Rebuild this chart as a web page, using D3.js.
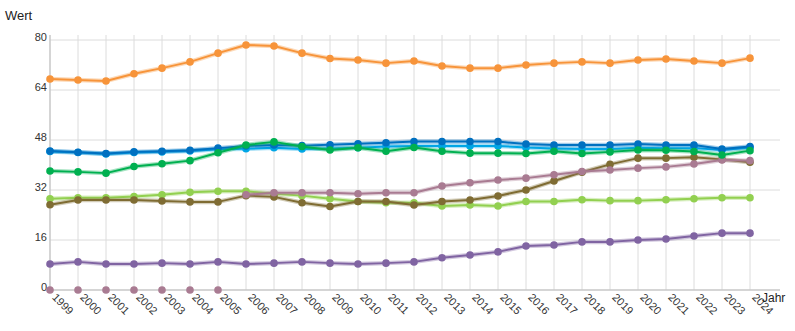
<!DOCTYPE html>
<html>
<head>
<meta charset="utf-8">
<script src="https://cdn.jsdelivr.net/npm/d3@7"></script>
<style>
  html, body { margin: 0; padding: 0; background: #fff; }
  svg { display: block; font-family: "Liberation Sans", Arial, sans-serif; }
</style>
</head>
<body>
<svg id="chart" width="795" height="331"></svg>
<script>
// Jahre auf der x-Achse
const years = d3.range(1999, 2025);
const yTicks = [0, 16, 32, 48, 64, 80];

// Werte je Reihe (null = kein Wert, Punkt auf der Nulllinie)
const orange = [67.5, 67.2, 66.9, 69.2, 71.0, 73.0, 75.8, 78.4, 78.1, 75.8, 74.1, 73.6, 72.6,
                73.3, 71.7, 71.0, 71.0, 72.0, 72.6, 73.0, 72.6, 73.6, 73.9, 73.3, 72.6, 74.2];
const darkBlue = [44.5, 44.1, 43.7, 44.2, 44.4, 44.7, 45.4, 46.1, 46.4, 46.2, 46.5, 46.8, 47.1,
                  47.5, 47.5, 47.5, 47.5, 46.7, 46.4, 46.4, 46.4, 46.7, 46.4, 46.4, 45.1, 45.9];
const lightBlue = [44.3, 44.0, 43.5, 44.0, 44.2, 44.5, 45.0, 45.2, 45.5, 45.1, 45.3, 45.5, 45.9,
                   46.1, 46.1, 46.1, 46.1, 45.6, 45.3, 45.1, 45.1, 45.5, 45.4, 45.4, 44.8, 45.6];
const green = [38.1, 37.8, 37.4, 39.5, 40.4, 41.4, 43.9, 46.4, 47.4, 45.9, 44.8, 45.5, 44.4,
               45.6, 44.4, 43.8, 43.8, 43.7, 44.4, 43.7, 44.2, 44.8, 44.7, 44.3, 43.2, 44.6];
const lightGreen = [29.2, 29.5, 29.5, 29.9, 30.5, 31.3, 31.6, 31.6, 30.8, 30.2, 29.2, 28.3, 27.9,
                    27.9, 26.9, 27.2, 26.9, 28.3, 28.3, 28.9, 28.6, 28.6, 28.9, 29.2, 29.5, 29.5];
const olive = [27.3, 28.8, 28.8, 28.8, 28.5, 28.2, 28.2, 30.2, 29.8, 27.9, 26.7, 28.3, 28.3,
               27.2, 28.3, 28.8, 30.1, 32.0, 34.9, 37.7, 40.2, 42.2, 42.2, 42.5, 41.8, 40.9];
const mauve = [null, null, null, null, null, null, null, 30.5, 31.1, 31.1, 31.1, 30.8, 31.1,
               31.1, 33.3, 34.3, 35.2, 35.8, 36.9, 37.9, 38.4, 39.0, 39.4, 40.3, 41.6, 41.4];
const purple = [8.3, 9.0, 8.3, 8.3, 8.6, 8.3, 9.0, 8.3, 8.6, 9.0, 8.6, 8.3, 8.6,
                9.0, 10.3, 11.2, 12.2, 14.1, 14.4, 15.4, 15.4, 16.0, 16.3, 17.3, 18.2, 18.2];

// Zeichenreihenfolge (unten nach oben)
const seriesList = [
  { values: purple,     color: "#8064a2" },
  { values: lightGreen, color: "#92d050" },
  { values: olive,      color: "#7f6c33" },
  { values: mauve,      color: "#a97b92" },
  { values: lightBlue,  color: "#00a6e6" },
  { values: darkBlue,   color: "#0070c0" },
  { values: green,      color: "#00b050" },
  { values: orange,     color: "#f7943a" }
];

const svg = d3.select("#chart");
const plotLeft = 50, plotRight = 750, gridRight = 780, plotTop = 40, plotBottom = 290, gridTop = 35;

const x = d3.scaleLinear().domain([1999, 2024]).range([plotLeft, plotRight]);
const y = d3.scaleLinear().domain([0, 80]).range([plotBottom, plotTop]);

// Gitter
const grid = svg.append("g");
grid.selectAll(".vg").data(years).join("line")
  .attr("x1", d => x(d)).attr("x2", d => x(d))
  .attr("y1", gridTop).attr("y2", plotBottom)
  .attr("stroke", "#dcdcdc").attr("stroke-width", 1);
grid.selectAll(".hg").data(yTicks).join("line")
  .attr("x1", plotLeft).attr("x2", gridRight)
  .attr("y1", d => y(d)).attr("y2", d => y(d))
  .attr("stroke", "#dcdcdc").attr("stroke-width", 1);

// Achsenlinien
svg.append("line").attr("x1", plotLeft).attr("x2", plotLeft).attr("y1", gridTop).attr("y2", plotBottom)
  .attr("stroke", "#bdbdbd");
svg.append("line").attr("x1", plotLeft).attr("x2", gridRight).attr("y1", plotBottom).attr("y2", plotBottom)
  .attr("stroke", "#bdbdbd");

// y-Achse
const yAxis = d3.axisLeft(y).tickValues(yTicks).tickSize(0).tickPadding(3).tickFormat(d3.format("d"));
const yg = svg.append("g").attr("transform", `translate(${plotLeft},0)`).call(yAxis);
yg.select(".domain").remove();
yg.selectAll("text")
  .attr("dy", "0")
  .attr("font-size", 11)
  .attr("fill", "#333")
  .attr("font-family", "Liberation Sans, Arial, sans-serif");

// x-Achse
const xAxis = d3.axisBottom(x).tickValues(years).tickSize(0).tickFormat(d3.format("d"));
const xg = svg.append("g").attr("transform", `translate(0,${plotBottom})`).call(xAxis);
xg.select(".domain").remove();
xg.selectAll("text")
  .attr("x", 0).attr("y", 0).attr("dy", 0)
  .attr("text-anchor", "start")
  .attr("transform", "translate(1,8) rotate(45)")
  .attr("font-size", 11)
  .attr("fill", "#333")
  .attr("font-family", "Liberation Sans, Arial, sans-serif");

// Achsentitel
svg.append("text").attr("x", 5).attr("y", 20).text("Wert")
  .attr("font-size", 13).attr("fill", "#222");
svg.append("text").attr("x", 762).attr("y", 302).text("Jahr")
  .attr("font-size", 12).attr("fill", "#222");

// Linien und Punkte
const line = d3.line()
  .defined(d => d.v !== null)
  .x(d => x(d.year))
  .y(d => y(d.v));

seriesList.forEach(s => {
  const pts = years.map((yr, i) => ({ year: yr, v: s.values[i] }));
  const g = svg.append("g");
  g.append("path").datum(pts)
    .attr("d", line).attr("fill", "none")
    .attr("stroke", s.color).attr("stroke-opacity", 0.35).attr("stroke-width", 4.5)
    .attr("stroke-linejoin", "round");
  g.append("path").datum(pts)
    .attr("d", line).attr("fill", "none")
    .attr("stroke", s.color).attr("stroke-width", 2)
    .attr("stroke-linejoin", "round");
  g.selectAll("circle").data(pts).join("circle")
    .attr("cx", d => x(d.year))
    .attr("cy", d => y(d.v === null ? 0 : d.v))
    .attr("r", 3.8)
    .attr("fill", s.color);
});
</script>
</body>
</html>
